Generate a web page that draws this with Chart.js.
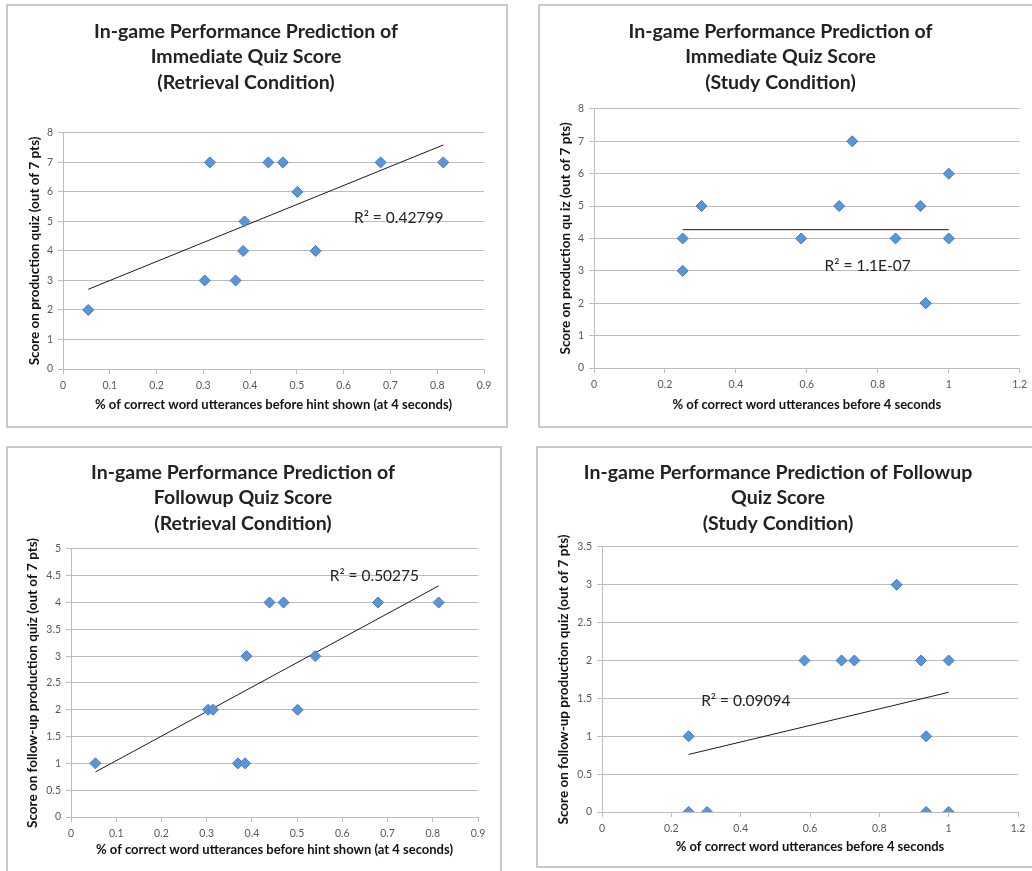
<!DOCTYPE html>
<html lang="en">
<head>
<meta charset="UTF-8">
<title>In-game Performance Prediction</title>
<script src="https://cdn.jsdelivr.net/npm/chart.js"></script>
<style>
    body {
        margin: 0;
        background: #fff;
        width: 1032px;
        height: 871px;
        position: relative;
        overflow: hidden;
        font-family: Lato, sans-serif;
    }
    .frame {
        position: absolute;
        border: 2px solid #c8c8c8;
        box-sizing: border-box;
    }
    canvas {
        position: absolute;
    }
</style>
</head>
<body>
    <div class="frame" style="left:6px;top:4px;width:502px;height:424px"></div>
    <div class="frame" style="left:538px;top:4px;width:500px;height:424px"></div>
    <div class="frame" style="left:6px;top:446px;width:496px;height:432px"></div>
    <div class="frame" style="left:536px;top:446px;width:502px;height:422px"></div>

    <canvas id="immRetrieval" width="497" height="420" style="left:8px;top:6px"></canvas>
    <canvas id="immStudy" width="492" height="420" style="left:540px;top:6px"></canvas>
    <canvas id="fupRetrieval" width="491" height="423" style="left:8px;top:448px"></canvas>
    <canvas id="fupStudy" width="494" height="417" style="left:538px;top:448px"></canvas>

<script>
// retrieval condition: % correct before hint (same students in both quizzes)
const retrievalX = [0.054, 0.303, 0.314, 0.369, 0.385, 0.388, 0.439, 0.470, 0.501, 0.540, 0.679, 0.813];
const immediateRetrieval = [2, 3, 7, 3, 4, 5, 7, 7, 6, 4, 7, 7];
const followupRetrieval = [1, 2, 2, 1, 1, 3, 4, 4, 2, 3, 4, 4];

// study condition
const studyX = [0.25, 0.25, 0.303, 0.584, 0.691, 0.728, 0.85, 0.92, 0.935, 0.935, 1.0, 1.0];
const immediateStudy = [4, 3, 5, 4, 5, 7, 4, 5, 2, 2, 6, 4];
const followupStudy = [1, 0, 0, 2, 2, 2, 3, 2, 1, 0, 2, 0];

// linear trendline end points
const trendImmRetrievalX = [0.054, 0.813];
const trendImmRetrievalY = [2.70, 7.59];
const trendFupRetrievalX = [0.054, 0.813];
const trendFupRetrievalY = [0.84, 4.31];
const trendImmStudyX = [0.25, 1.0];
const trendImmStudyY = [4.27, 4.27];
const trendFupStudyX = [0.25, 1.0];
const trendFupStudyY = [0.76, 1.58];

// tick values
const xTicksRetrieval = [0, 0.1, 0.2, 0.3, 0.4, 0.5, 0.6, 0.7, 0.8, 0.9];
const xTicksStudy = [0, 0.2, 0.4, 0.6, 0.8, 1, 1.2];
const yTicksImmediate = [0, 1, 2, 3, 4, 5, 6, 7, 8];
const yTicksFupRetrieval = [0, 0.5, 1, 1.5, 2, 2.5, 3, 3.5, 4, 4.5, 5];
const yTicksFupStudy = [0, 0.5, 1, 1.5, 2, 2.5, 3, 3.5];

const r2Texts = ['R\u00b2 = 0.42799', 'R\u00b2 = 1.1E-07', 'R\u00b2 = 0.50275', 'R\u00b2 = 0.09094'];

const xTitleRetrieval = '% of correct word utterances before hint shown (at 4 seconds)';
const xTitleStudy = '% of correct word utterances before 4 seconds';

const FONT = 'Lato, "Open Sans", sans-serif';
const GRID = '#bdbdbd';

// writes the R² value at a data position
const r2Label = {
    id: 'r2Label',
    afterDatasetsDraw(chart, args, opts) {
        if (!opts.text) return;
        const { ctx, scales: { x, y } } = chart;
        ctx.save();
        ctx.font = '15.5px ' + FONT;
        ctx.fillStyle = '#222';
        ctx.textAlign = 'left';
        ctx.textBaseline = 'middle';
        ctx.fillText(opts.text, x.getPixelForValue(opts.x), y.getPixelForValue(opts.y));
        ctx.restore();
    }
};

function pairs(xs, ys) {
    return xs.map((x, i) => ({ x: x, y: ys[i] }));
}

function creaGrafico(id, cfg) {
    const ctx = document.getElementById(id).getContext('2d');
    return new Chart(ctx, {
        type: 'scatter',
        data: {
            datasets: [
                {
                    data: pairs(cfg.xs, cfg.ys),
                    pointStyle: 'rectRot',
                    pointRadius: 5.5,
                    pointHoverRadius: 5.5,
                    backgroundColor: '#5b95d9',
                    borderColor: '#4479bd',
                    borderWidth: 1
                },
                {
                    type: 'line',
                    data: pairs(cfg.trendX, cfg.trendY),
                    borderColor: '#1a1a1a',
                    borderWidth: 1,
                    pointRadius: 0,
                    fill: false
                }
            ]
        },
        options: {
            responsive: false,
            animation: false,
            layout: { padding: { left: 0, right: cfg.right, top: 0, bottom: 0 } },
            plugins: {
                legend: { display: false },
                tooltip: { enabled: false },
                title: {
                    display: true,
                    text: cfg.title,
                    color: '#222',
                    font: { family: FONT, size: 19.5, weight: 'bold', lineHeight: 1.29 },
                    padding: { top: cfg.titleTop, bottom: cfg.titleBottom }
                },
                r2Label: cfg.r2
            },
            scales: {
                x: {
                    type: 'linear',
                    min: cfg.xTicks[0],
                    max: cfg.xTicks[cfg.xTicks.length - 1],
                    afterBuildTicks: s => { s.ticks = cfg.xTicks.map(v => ({ value: v })); },
                    afterFit: s => { s.height = cfg.xh; },
                    grid: { drawOnChartArea: false, drawTicks: true, tickLength: 5, color: GRID },
                    border: { color: GRID },
                    ticks: {
                        padding: 5,
                        color: '#595959',
                        font: { family: FONT, size: 10.5 },
                        callback: v => String(v)
                    },
                    title: {
                        display: true,
                        text: cfg.xTitle,
                        color: '#111',
                        font: { family: FONT, size: 13, weight: 'bold', lineHeight: 1.2 },
                        padding: { top: 0, bottom: cfg.xTitlePad }
                    }
                },
                y: {
                    type: 'linear',
                    min: cfg.yTicks[0],
                    max: cfg.yTicks[cfg.yTicks.length - 1],
                    afterBuildTicks: s => { s.ticks = cfg.yTicks.map(v => ({ value: v })); },
                    afterFit: s => { s.width = cfg.yw; },
                    grid: { drawOnChartArea: true, drawTicks: true, tickLength: 5, color: GRID },
                    border: { color: GRID },
                    ticks: {
                        padding: 5,
                        color: '#595959',
                        font: { family: FONT, size: 10.5 },
                        callback: v => String(v)
                    },
                    title: {
                        display: true,
                        text: cfg.yTitle,
                        color: '#111',
                        font: { family: FONT, size: 13.5, weight: 'bold', lineHeight: 1.2 },
                        padding: { top: cfg.yTitlePad, bottom: 0 }
                    }
                }
            }
        },
        plugins: [r2Label]
    });
}

creaGrafico('immRetrieval', {
    xs: retrievalX, ys: immediateRetrieval,
    trendX: trendImmRetrievalX, trendY: trendImmRetrievalY,
    xTicks: xTicksRetrieval, yTicks: yTicksImmediate,
    title: ['In-game Performance Prediction of', 'Immediate Quiz Score', '(Retrieval Condition)'],
    xTitle: xTitleRetrieval,
    yTitle: 'Score on production quiz (out of 7 pts)',
    r2: { text: r2Texts[0], x: 0.622, y: 5.12 },
    right: 21, yw: 55, xh: 57, titleTop: 13.4, titleBottom: 38, xTitlePad: 13.2, yTitlePad: 19
});

creaGrafico('immStudy', {
    xs: studyX, ys: immediateStudy,
    trendX: trendImmStudyX, trendY: trendImmStudyY,
    xTicks: xTicksStudy, yTicks: yTicksImmediate,
    title: ['In-game Performance Prediction of', 'Immediate Quiz Score', '(Study Condition)'],
    xTitle: xTitleStudy,
    yTitle: 'Score on production qu iz (out of 7 pts)',
    r2: { text: r2Texts[1], x: 0.65, y: 3.15 },
    right: 11, yw: 54, xh: 58, titleTop: 13.4, titleBottom: 14, xTitlePad: 13.2, yTitlePad: 18
});

creaGrafico('fupRetrieval', {
    xs: retrievalX, ys: followupRetrieval,
    trendX: trendFupRetrievalX, trendY: trendFupRetrievalY,
    xTicks: xTicksRetrieval, yTicks: yTicksFupRetrieval,
    title: ['In-game Performance Prediction of', 'Followup Quiz Score', '(Retrieval Condition)'],
    xTitle: xTitleRetrieval,
    yTitle: 'Score on follow-up production quiz (out of 7 pts)',
    r2: { text: r2Texts[2], x: 0.572, y: 4.49 },
    right: 21, yw: 63, xh: 54, titleTop: 12.4, titleBottom: 13, xTitlePad: 13.2, yTitlePad: 17
});

creaGrafico('fupStudy', {
    xs: studyX, ys: followupStudy,
    trendX: trendFupStudyX, trendY: trendFupStudyY,
    xTicks: xTicksStudy, yTicks: yTicksFupStudy,
    title: ['In-game Performance Prediction of Followup', 'Quiz Score', '(Study Condition)'],
    xTitle: xTitleStudy,
    yTitle: 'Score on follow-up production quiz (out of 7 pts)',
    r2: { text: r2Texts[3], x: 0.286, y: 1.46 },
    right: 14, yw: 64, xh: 53, titleTop: 12.4, titleBottom: 11, xTitlePad: 10.2, yTitlePad: 18
});
</script>
</body>
</html>
